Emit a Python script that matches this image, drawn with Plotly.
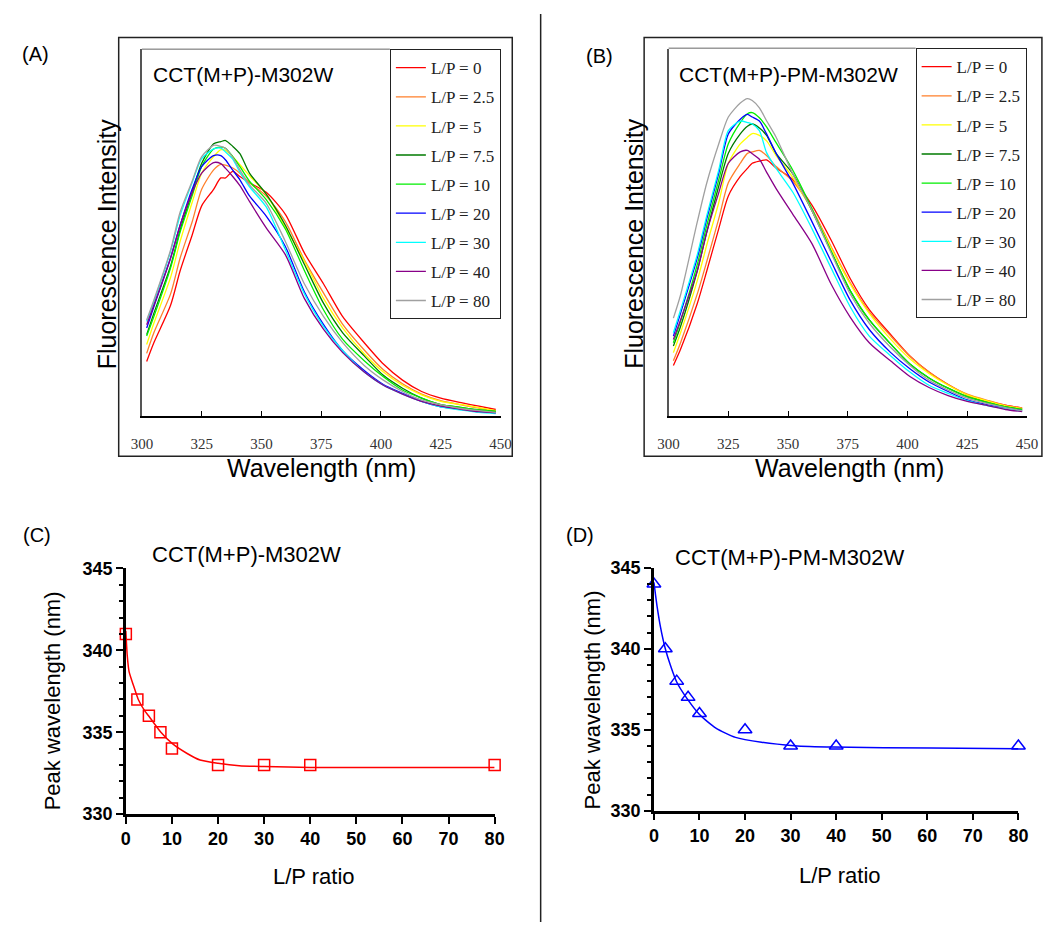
import plotly.graph_objects as go

W, H = 1049, 932

# ---------------- emission spectra (arbitrary intensity units, 0-100) ----------------
WAVELENGTH = [302, 305, 312, 316, 321, 325, 330, 333, 335, 338, 341, 345, 352,
              360, 368, 376, 384, 393, 401, 409, 417, 425, 434, 441, 448]

LP_LABELS = ["L/P = 0", "L/P = 2.5", "L/P = 5", "L/P = 7.5", "L/P = 10",
             "L/P = 20", "L/P = 30", "L/P = 40", "L/P = 80"]
LP_COLORS = ["#ff0000", "#ff7f2a", "#ffff00", "#007a00", "#00ee00",
             "#0000ff", "#00ffff", "#880088", "#a0a0a0"]

# CCT(M+P)-M302W
A_LP0 = [14.9, 20.0, 30.2, 39.6, 49.3, 57.3, 61.8, 64.9, 64.9, 66.7, 65.3, 63.6, 61.0,
         55.0, 44.4, 36.0, 27.1, 20.0, 14.2, 9.8, 6.7, 4.9, 3.6, 2.7, 1.8]
A_LP2_5 = [17.1, 22.7, 33.3, 43.1, 52.9, 61.8, 67.1, 68.6, 68.4, 67.6, 66.2, 63.6, 60.0,
           53.0, 42.5, 33.5, 25.0, 18.0, 12.6, 8.8, 6.0, 4.2, 3.0, 2.2, 1.5]
A_LP5 = [19.5, 25.3, 37.8, 47.6, 58.2, 66.2, 70.7, 72.6, 72.4, 70.7, 68.5, 65.5, 60.5,
         51.5, 42.2, 32.0, 24.0, 17.0, 12.0, 8.4, 5.8, 4.0, 3.1, 2.3, 1.5]
A_LP7_5 = [22.2, 28.0, 40.9, 50.7, 60.9, 68.9, 74.2, 74.8, 75.1, 73.5, 71.5, 66.2, 60.5,
           52.0, 41.3, 30.7, 22.7, 16.4, 11.1, 7.6, 4.9, 3.1, 2.3, 1.7, 1.3]
A_LP10 = [21.8, 27.1, 40.4, 50.2, 60.0, 68.0, 72.8, 73.3, 73.0, 70.7, 68.0, 64.0, 59.0,
          51.0, 39.6, 28.9, 20.9, 15.1, 10.7, 7.1, 4.9, 3.1, 2.3, 1.7, 1.3]
A_LP20 = [24.0, 29.8, 43.1, 52.0, 61.8, 68.0, 71.0, 71.0, 69.8, 67.0, 64.4, 60.0, 54.5,
          46.2, 33.8, 24.9, 17.8, 12.4, 8.6, 6.2, 4.0, 2.5, 1.8, 1.2, 0.9]
A_LP30 = [25.8, 31.1, 44.9, 54.7, 63.6, 70.2, 72.8, 73.0, 72.0, 70.0, 66.5, 62.5, 57.0,
          45.3, 33.3, 24.4, 17.8, 12.0, 8.4, 6.0, 4.0, 2.5, 1.6, 1.0, 0.7]
A_LP40 = [24.9, 30.2, 43.1, 52.0, 60.9, 66.2, 69.1, 68.8, 67.5, 65.3, 62.8, 58.5, 51.3,
          44.0, 32.0, 23.6, 17.3, 12.0, 8.4, 6.0, 4.0, 2.7, 1.8, 1.2, 0.9]
A_LP80 = [26.2, 31.6, 45.3, 55.6, 64.0, 70.7, 73.8, 73.5, 72.9, 70.5, 67.1, 63.0, 58.0,
          47.6, 36.0, 27.1, 20.0, 13.8, 9.8, 6.7, 4.4, 3.1, 2.0, 1.5, 1.0]

# CCT(M+P)-PM-M302W
B_LP0 = [13.8, 18.2, 30.7, 39.6, 51.1, 60.0, 65.3, 67.5, 68.9, 69.5, 69.8, 67.6, 64.5,
         57.5, 48.0, 37.5, 29.0, 22.2, 16.4, 12.0, 8.6, 5.8, 4.0, 3.0, 2.2]
B_LP2_5 = [15.1, 20.0, 33.3, 42.2, 53.8, 63.6, 68.9, 71.6, 72.0, 72.4, 71.0, 68.0, 64.0,
           56.5, 46.2, 36.4, 28.4, 21.8, 16.3, 12.0, 8.6, 6.0, 4.2, 3.0, 2.2]
B_LP5 = [17.3, 22.7, 36.9, 46.7, 58.2, 68.9, 74.2, 76.0, 77.0, 76.5, 75.0, 71.0, 65.0,
         56.0, 45.8, 36.0, 28.0, 20.9, 15.6, 11.6, 8.4, 5.8, 4.0, 2.8, 2.0]
B_LP7_5 = [19.1, 24.4, 39.6, 50.2, 62.7, 71.6, 76.9, 79.0, 79.6, 78.5, 76.5, 71.6, 66.0,
           56.0, 44.9, 34.2, 26.2, 19.6, 14.2, 10.4, 7.6, 5.3, 3.6, 2.5, 1.8]
B_LP10 = [20.0, 25.8, 41.3, 52.0, 64.4, 74.2, 80.0, 82.4, 82.7, 81.3, 78.8, 74.5, 67.0,
          56.5, 44.9, 34.2, 26.2, 19.6, 14.2, 10.4, 7.6, 5.3, 3.6, 2.5, 1.8]
B_LP20 = [21.8, 28.0, 43.1, 53.8, 66.2, 76.9, 80.9, 82.2, 81.5, 80.4, 76.9, 71.6, 63.5,
          53.0, 42.2, 31.6, 23.6, 17.3, 12.9, 9.3, 6.7, 4.4, 3.0, 2.2, 1.5]
B_LP30 = [22.7, 28.9, 44.0, 54.7, 67.1, 77.8, 80.4, 80.0, 79.6, 77.8, 71.8, 67.5, 61.0,
          51.1, 40.4, 29.8, 21.8, 16.4, 12.0, 8.4, 6.2, 4.2, 2.8, 2.0, 1.3]
B_LP40 = [20.9, 26.2, 39.6, 50.2, 60.9, 68.9, 72.0, 72.4, 71.5, 70.0, 66.5, 62.0, 55.0,
          47.0, 36.0, 27.0, 20.0, 15.0, 10.8, 7.8, 5.6, 4.0, 2.8, 1.8, 1.2]
B_LP80 = [26.7, 33.0, 52.9, 63.6, 74.2, 81.5, 85.3, 86.5, 86.0, 84.0, 80.5, 76.0, 66.0,
          56.0, 44.5, 33.3, 25.3, 18.7, 13.8, 9.8, 7.1, 4.9, 3.3, 2.3, 1.5]

SPECTRA_A = [A_LP0, A_LP2_5, A_LP5, A_LP7_5, A_LP10, A_LP20, A_LP30, A_LP40, A_LP80]
SPECTRA_B = [B_LP0, B_LP2_5, B_LP5, B_LP7_5, B_LP10, B_LP20, B_LP30, B_LP40, B_LP80]

# ---------------- peak wavelength vs lipid/protein ratio ----------------
LP_RATIO = [0, 2.5, 5, 7.5, 10, 20, 30, 40, 80]
PEAK_C = [341, 337, 336, 335, 334, 333, 333, 333, 333]
PEAK_D = [344, 340, 338, 337, 336, 335, 334, 334, 334]

FIT_C_X = [0, 0.3, 0.7, 1.6, 2.7, 4.1, 5.2, 7.6, 10.1, 13.3, 16.1, 20, 24.6, 30, 40, 60, 80]
FIT_C_Y = [341.2, 339.7, 338.7, 337.9, 337.0, 336.3, 335.9, 335.0, 334.3, 333.7, 333.3,
           333.1, 332.95, 332.9, 332.85, 332.85, 332.85]
FIT_D_X = [0, 0.7, 1.4, 2.5, 3.6, 5, 7.2, 10, 13.6, 17.9, 23.6, 30.8, 39.4, 60.9, 80]
FIT_D_Y = [344.1, 342.6, 341.4, 340.0, 339.0, 337.95, 336.95, 335.94, 335.1, 334.53,
           334.23, 334.02, 333.93, 333.87, 333.83]


def fx(x):
    return x / W


def fy(y):
    return 1 - y / H


SANS = "Liberation Sans, Arial, sans-serif"
SERIF = "Liberation Serif, Times New Roman, serif"

fig = go.Figure()

for i, (lab, col) in enumerate(zip(LP_LABELS, LP_COLORS)):
    fig.add_trace(go.Scatter(
        x=WAVELENGTH, y=SPECTRA_A[i], mode="lines", name=lab,
        line=dict(color=col, width=1.3, shape="spline", smoothing=0.7),
        xaxis="x", yaxis="y", legend="legend", legendgroup="a%d" % i,
        hoverinfo="skip"))
for i, (lab, col) in enumerate(zip(LP_LABELS, LP_COLORS)):
    fig.add_trace(go.Scatter(
        x=WAVELENGTH, y=SPECTRA_B[i], mode="lines", name=lab,
        line=dict(color=col, width=1.3, shape="spline", smoothing=0.7),
        xaxis="x2", yaxis="y2", legend="legend2", legendgroup="b%d" % i,
        hoverinfo="skip"))

fig.add_trace(go.Scatter(x=FIT_C_X, y=FIT_C_Y, mode="lines",
                         line=dict(color="#ff0000", width=1.5, shape="spline", smoothing=0.6),
                         xaxis="x3", yaxis="y3", showlegend=False, cliponaxis=False))
fig.add_trace(go.Scatter(x=LP_RATIO, y=PEAK_C, mode="markers",
                         marker=dict(symbol="square-open", size=11, color="#ff0000",
                                     line=dict(width=1.5)),
                         xaxis="x3", yaxis="y3", showlegend=False, cliponaxis=False))
fig.add_trace(go.Scatter(x=FIT_D_X, y=FIT_D_Y, mode="lines",
                         line=dict(color="#0000ff", width=1.5, shape="spline", smoothing=0.6),
                         xaxis="x4", yaxis="y4", showlegend=False, cliponaxis=False))
fig.add_trace(go.Scatter(x=LP_RATIO, y=PEAK_D, mode="markers",
                         marker=dict(symbol="triangle-up-open", size=12, color="#0000ff",
                                     line=dict(width=1.5)),
                         xaxis="x4", yaxis="y4", showlegend=False, cliponaxis=False))

spec_x = dict(range=[300, 450], tickvals=[300, 325, 350, 375, 400, 425, 450],
              ticks="inside", ticklen=5, tickcolor="black", tickwidth=1,
              showline=True, linecolor="black", linewidth=1.5,
              tickfont=dict(family=SERIF, size=15, color="#333333"),
              ticklabelstandoff=13, showgrid=False, zeroline=False)
spec_y = dict(range=[0, 100], showline=True, linecolor="#555555", linewidth=2,
              showticklabels=False, ticks="", showgrid=False, zeroline=False)

ratio_x = dict(range=[0, 80], tickvals=list(range(0, 81, 10)), ticks="outside",
               ticklen=7, tickwidth=2, tickcolor="black", showline=True,
               linecolor="black", linewidth=2.5, showgrid=False, zeroline=False,
               tickfont=dict(family=SANS, size=18, color="black", weight="bold"))
ratio_y = dict(range=[330, 345], tickvals=[330, 335, 340, 345], ticks="outside",
               ticklen=7, tickwidth=2, tickcolor="black", showline=True,
               linecolor="black", linewidth=2.5, showgrid=False, zeroline=False,
               tickfont=dict(family=SANS, size=18, color="black", weight="bold"),
               minor=dict(dtick=1, ticks="outside", ticklen=4, tickwidth=2,
                          tickcolor="black", showgrid=False))

legend_style = dict(xanchor="left", yanchor="top", bgcolor="white",
                    bordercolor="#222222", borderwidth=1,
                    font=dict(family=SERIF, size=17, color="#222222"),
                    traceorder="grouped", tracegroupgap=4, itemclick=False)

fig.update_layout(
    width=W, height=H, margin=dict(l=0, r=0, t=0, b=0),
    paper_bgcolor="white", plot_bgcolor="white",
    xaxis=dict(domain=[fx(133.7), fx(500)], anchor="y", **spec_x),
    yaxis=dict(domain=[fy(415), fy(40)], anchor="x", **spec_y),
    xaxis2=dict(domain=[fx(671.7), fx(1037.7)], anchor="y2", **spec_x),
    yaxis2=dict(domain=[fy(415), fy(40)], anchor="x2", **spec_y),
    xaxis3=dict(domain=[fx(117.3), fx(494)], anchor="y3", **ratio_x),
    yaxis3=dict(domain=[fy(821.7), fy(570.7)], anchor="x3", **ratio_y),
    xaxis4=dict(domain=[fx(656.7), fx(1029)], anchor="y4", **ratio_x),
    yaxis4=dict(domain=[fy(818.3), fy(570)], anchor="x4", **ratio_y),
    legend=dict(x=fx(387), y=fy(40), **legend_style),
    legend2=dict(x=fx(924), y=fy(39), **legend_style),
    showlegend=True,
)

shapes = [
    dict(type="rect", xref="paper", yref="paper", x0=fx(110), x1=fx(512),
         y0=fy(456), y1=fy(28), line=dict(color="#222222", width=1.5)),
    dict(type="rect", xref="paper", yref="paper", x0=fx(646.7), x1=fx(1053),
         y0=fy(456), y1=fy(28), line=dict(color="#222222", width=1.5)),
    dict(type="line", xref="paper", yref="paper", x0=fx(541), x1=fx(541),
         y0=fy(4), y1=fy(932), line=dict(color="#222222", width=1.5)),
    dict(type="line", xref="paper", yref="paper", x0=fx(133.7), x1=fx(387),
         y0=fy(40), y1=fy(40), line=dict(color="#666666", width=1)),
    dict(type="line", xref="paper", yref="paper", x0=fx(671.7), x1=fx(924),
         y0=fy(39), y1=fy(39), line=dict(color="#666666", width=1)),
]
fig.update_layout(shapes=shapes)


def note(text, x, y, size, xanchor="center", angle=0, color="black"):
    fig.add_annotation(text=text, x=fx(x), y=fy(y), xref="paper", yref="paper",
                       xanchor=xanchor, yanchor="middle", showarrow=False,
                       textangle=angle, font=dict(family=SANS, size=size, color=color))


note("(A)", 25, 45, 20)
note("(B)", 601, 47, 20)
note("(C)", 27, 537, 20)
note("(D)", 581, 537, 20)
note("CCT(M+P)-M302W", 143, 66, 21, xanchor="left")
note("CCT(M+P)-PM-M302W", 680, 66, 21, xanchor="left")
note("Fluorescence Intensity", 97.5, 239, 25, angle=-90)
note("Fluorescence Intensity", 636.3, 238, 25, angle=-90)
note("Wavelength (nm)", 317.5, 468, 25)
note("Wavelength (nm)", 856, 468, 25)
note("CCT(M+P)-M302W", 240.8, 556.7, 22)
note("CCT(M+P)-PM-M302W", 795.5, 560, 22)
note("Peak wavelength (nm)", 42.7, 705.7, 22, angle=-90)
note("Peak wavelength (nm)", 594, 705, 22, angle=-90)
note("L/P ratio", 309, 885, 22)
note("L/P ratio", 846.7, 884, 22)

fig.write_html("out.html")
